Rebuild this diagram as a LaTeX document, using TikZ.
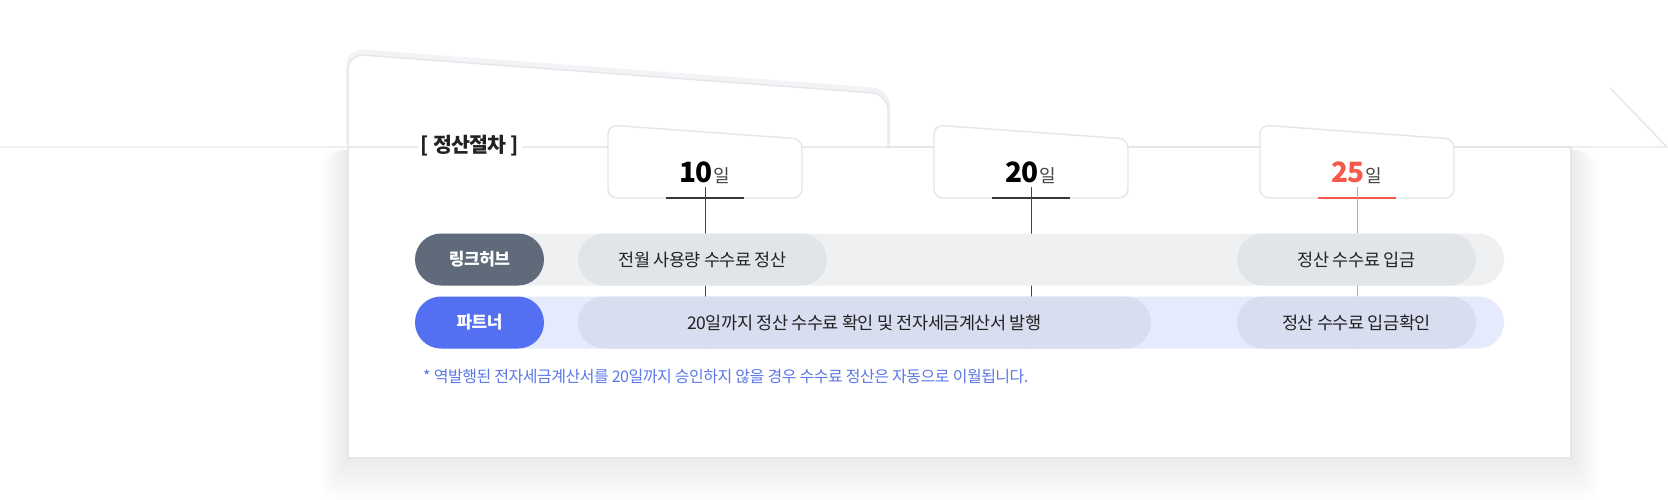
\documentclass[tikz,border=0pt]{standalone}
\usepackage{fontspec}
\setmainfont{Noto Sans CJK KR}[LetterSpace=-3]
\usetikzlibrary{calc}
\definecolor{edge}{HTML}{E3E6EA}
\definecolor{edgelight}{HTML}{F1F3F5}
\definecolor{hub}{HTML}{5F6B7B}
\definecolor{partner}{HTML}{5470F2}
\definecolor{hubbg}{HTML}{EFF0F2}
\definecolor{hubpill}{HTML}{E2E5E8}
\definecolor{partnerbg}{HTML}{E5EAFC}
\definecolor{partnerpill}{HTML}{D8DDF0}
\definecolor{note}{HTML}{5B78E6}
\definecolor{datered}{HTML}{F4594B}
\definecolor{tickred}{HTML}{F59088}
\definecolor{ink}{HTML}{222222}
\definecolor{daytxt}{HTML}{444444}

\begin{document}
\begin{tikzpicture}[x=1pt,y=-1pt,
  card/.style={draw=edge,fill=white,line width=1.4pt,rounded corners=9pt},
  bar/.style={rounded corners=26pt,minimum height=52pt,inner sep=0pt},
  tag/.style={bar,minimum width=129pt,text=white,font=\fontsize{17pt}{17pt}\selectfont\bfseries},
  pill/.style={bar,text=ink,font=\fontsize{17.5pt}{17.5pt}\selectfont},
  day/.style={anchor=base,inner sep=0pt},
  vline/.style={line width=0.9pt},
  uline/.style={line width=2.2pt}]
  \useasboundingbox (0,0) rectangle (1668,499);

  % soft shadow under the sheet
  \foreach \i in {1,...,20}
    \fill[black,opacity=0.005,rounded corners=\i pt] ({348-1.4*\i},150) rectangle ({1571+1.4*\i},{458+2.2*\i});
  \draw[edge,fill=white,line width=1.4pt] (348,147) rectangle (1571,458);

  % folder tab
  \draw[edgelight,line width=5pt,rounded corners=16pt,yshift=3pt] (348,147) -- (348,54) -- (888,94) -- (888,147);
  \draw[card,rounded corners=16pt] (348,147) -- (348,54) -- (888,94) -- (888,147);
  \draw[edge,line width=1.4pt] (0,147) -- (1667,147) -- (1610,88);

  \node[fill=white,inner sep=3pt,text=ink,font=\fontsize{20.5pt}{20.5pt}\selectfont\bfseries] (title) at (470,146) {[ 정산절차 ]};

  % date cards
  \draw[card] (608,125) -- (802,139) -- (802,198) -- (608,198) -- cycle;
  \draw[card] (934,125) -- (1128,139) -- (1128,198) -- (934,198) -- cycle;
  \draw[card] (1260,125) -- (1454,139) -- (1454,198) -- (1260,198) -- cycle;
  \node[day] (d10) at (705,182) {\fontsize{28pt}{28pt}\selectfont\bfseries 10\kern1pt\fontsize{18pt}{18pt}\selectfont\mdseries\color{daytxt}일};
  \node[day] (d20) at (1031,182) {\fontsize{28pt}{28pt}\selectfont\bfseries 20\kern1pt\fontsize{18pt}{18pt}\selectfont\mdseries\color{daytxt}일};
  \node[day] (d25) at (1357,182) {\fontsize{28pt}{28pt}\selectfont\bfseries\color{datered}25\kern1pt\fontsize{18pt}{18pt}\selectfont\mdseries\color{daytxt}일};
  \draw[uline,ink!90] ($(d10.base)+(-39,16)$) -- ++(78,0);
  \draw[uline,ink!90] ($(d20.base)+(-39,16)$) -- ++(78,0);
  \draw[uline,datered] ($(d25.base)+(-39,16)$) -- ++(78,0);

  \coordinate (rowend) at (0,349);
  \draw[vline,daytxt] ([yshift=-5pt]d10.base) -- (d10.base |- rowend);
  \draw[vline,daytxt] ([yshift=-5pt]d20.base) -- (d20.base |- rowend);
  \draw[vline,tickred] ([yshift=-5pt]d25.base) -- (d25.base |- rowend);

  % rows
  \node[bar,fill=hubbg,minimum width=1089pt] (hubrow) at (959.5,259.5) {};
  \node[tag,fill=hub] (hub) at (479.5,259.5) {링크허브};
  \node[pill,fill=hubpill,minimum width=249pt] (hubmonth) at (702.5,259.5) {전월 사용량 수수료 정산};
  \node[pill,fill=hubpill,minimum width=239pt] (hubpay) at (1356.5,259.5) {정산 수수료 입금};

  \node[bar,fill=partnerbg,minimum width=1089pt] (partnerrow) at (959.5,322.5) {};
  \node[tag,fill=partner] (partner) at (479.5,322.5) {파트너};
  \node[pill,fill=partnerpill,minimum width=573pt] (partnercheck) at (864.5,322.5) {20일까지 정산 수수료 확인 및 전자세금계산서 발행\hspace{20pt}};
  \node[pill,fill=partnerpill,minimum width=239pt] (partnerpay) at (1356.5,322.5) {정산 수수료 입금확인};

  \node[anchor=west,inner sep=0pt,text=note,font=\fontsize{16pt}{16pt}\selectfont] (footnote) at (423,377) {* 역발행된 전자세금계산서를 20일까지 승인하지 않을 경우 수수료 정산은 자동으로 이월됩니다.};
\end{tikzpicture}
\end{document}
